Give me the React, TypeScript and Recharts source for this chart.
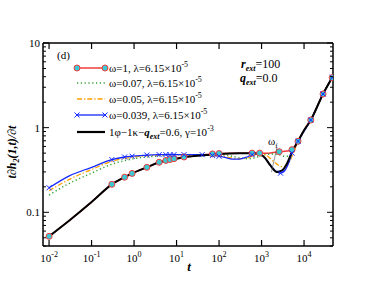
import React from "react";
import { LineChart, Line, XAxis, YAxis } from "recharts";

// ω=1, λ=6.15e-5
const tRed = [0.01, 0.03, 0.1, 0.3, 0.6, 0.9, 2, 3.9, 5.6, 7, 8.7, 15, 40, 70, 100, 300, 600, 900, 1500, 2600, 4000, 5200, 7200, 10000, 14400, 28000, 46000];
const vRed = [0.052, 0.08, 0.132, 0.214, 0.26, 0.288, 0.34, 0.39, 0.41, 0.42, 0.43, 0.45, 0.475, 0.49, 0.495, 0.5, 0.5, 0.5, 0.5, 0.52, 0.53, 0.55, 0.69, 0.93, 1.23, 2.5, 3.9];
const redMarkT = [0.01, 0.3, 0.6, 0.9, 2, 3.9, 5.6, 7, 8.7, 15, 70, 100, 600, 900, 2600, 5200, 7200, 14400, 28000, 46000];

// ω=0.07
const tGreen = [0.01, 0.03, 0.1, 0.3, 1, 3, 10, 50, 100, 200, 300, 500, 800, 1200, 1800, 2600, 3500, 4500, 5500, 7200, 14400, 28000, 46000];
const vGreen = [0.16, 0.22, 0.29, 0.37, 0.43, 0.46, 0.48, 0.48, 0.48, 0.46, 0.44, 0.43, 0.45, 0.48, 0.49, 0.48, 0.46, 0.46, 0.53, 0.69, 1.23, 2.5, 3.9];

// ω=0.05
const tOrange = [0.01, 0.03, 0.1, 0.3, 1, 3, 10, 50, 100, 150, 250, 400, 600, 900, 1300, 1800, 2500, 3200, 4200, 5200, 6200, 7200, 14400, 28000, 46000];
const vOrange = [0.18, 0.245, 0.32, 0.4, 0.45, 0.47, 0.48, 0.48, 0.47, 0.45, 0.43, 0.43, 0.46, 0.49, 0.47, 0.41, 0.36, 0.345, 0.37, 0.46, 0.57, 0.69, 1.23, 2.5, 3.9];

// ω=0.039
const tBlue = [0.01, 0.03, 0.1, 0.3, 0.6, 0.9, 2, 3.9, 5.6, 7, 8.7, 15, 40, 70, 100, 150, 200, 300, 450, 600, 900, 1200, 1600, 2300, 2800, 3500, 4500, 5200, 7200, 14400, 28000, 46000];
const vBlue = [0.195, 0.27, 0.34, 0.42, 0.45, 0.46, 0.475, 0.48, 0.48, 0.48, 0.48, 0.48, 0.48, 0.47, 0.46, 0.44, 0.425, 0.425, 0.45, 0.48, 0.49, 0.44, 0.36, 0.3, 0.29, 0.31, 0.4, 0.5, 0.69, 1.23, 2.5, 3.9];
const blueMarkT = [0.01, 0.3, 0.6, 0.9, 2, 3.9, 5.6, 7, 8.7, 15, 40, 70, 100, 600, 2800, 5200, 7200, 14400, 28000, 46000];

// 1φ-1κ-q_ext=0.6, γ=1e-3
const tBlack = [0.01, 0.03, 0.1, 0.3, 0.6, 0.9, 2, 3.9, 10, 20, 50, 100, 300, 700, 900, 1200, 1600, 2300, 3000, 4000, 5200, 7200, 10000, 14400, 28000, 46000];
const vBlack = [0.052, 0.08, 0.132, 0.214, 0.26, 0.288, 0.34, 0.39, 0.43, 0.455, 0.475, 0.49, 0.5, 0.5, 0.49, 0.44, 0.36, 0.3, 0.31, 0.38, 0.52, 0.69, 0.93, 1.23, 2.5, 3.9];

const xMajor = [0.01, 0.1, 1, 10, 100, 1000, 10000];
const yTicks = [0.04, 0.05, 0.06, 0.07, 0.08, 0.09, 0.1, 0.2, 0.3, 0.4, 0.5, 0.6, 0.7, 0.8, 0.9, 1, 2, 3, 4, 5, 6, 7, 8, 9, 10];
const yMajor = [0.1, 1, 10];

const zip = (t: number[], v: number[]) => t.map((x, i) => ({ t: x, v: v[i] }));
const redData = zip(tRed, vRed);
const greenData = zip(tGreen, vGreen);
const orangeData = zip(tOrange, vOrange);
const blueData = zip(tBlue, vBlue);
const blackData = zip(tBlack, vBlack);

const FONT = "Liberation Serif, Times New Roman, serif";
const RED = "#f03c3c";
const CYAN = "#3cc8d2";
const GREEN = "#30a030";
const ORANGE = "#ffa000";
const BLUE = "#1428ff";

const isMajor = (v: number, list: number[]) => list.some((m) => Math.abs(m - v) / m < 1e-6);

const XTickBottom = (props: any) => {
  const { x, y, payload } = props;
  const e = Math.round(Math.log10(payload.value));
  return (
    <g>
      <line x1={x} x2={x} y1={y} y2={y - 6} stroke="#000" strokeWidth={1.2} />
      <text x={x} y={y + 16} textAnchor="middle" fontSize={11} fontFamily={FONT} fill="#000">
        10<tspan dy={-5} fontSize={8}>{e}</tspan>
      </text>
    </g>
  );
};

const XTickTop = (props: any) => {
  const { x, y } = props;
  return <line x1={x} x2={x} y1={y} y2={y + 6} stroke="#000" strokeWidth={1.2} />;
};

const YTickLeft = (props: any) => {
  const { x, y, payload } = props;
  const major = isMajor(payload.value, yMajor);
  return (
    <g>
      <line x1={x} x2={x + (major ? 6 : 3)} y1={y} y2={y} stroke="#000" strokeWidth={1} />
      {major && (
        <text x={x - 3} y={y + 4} textAnchor="end" fontSize={11} fontFamily={FONT} fill="#000">
          {payload.value}
        </text>
      )}
    </g>
  );
};

const YTickRight = (props: any) => {
  const { x, y, payload } = props;
  const major = isMajor(payload.value, yMajor);
  return <line x1={x} x2={x - (major ? 6 : 3)} y1={y} y2={y} stroke="#000" strokeWidth={1} />;
};

const RedDot = (props: any) => {
  const { cx, cy, index, payload } = props;
  if (!redMarkT.includes(payload.t)) return <g key={index} />;
  return <circle key={index} cx={cx} cy={cy} r={3} fill={CYAN} stroke={RED} strokeWidth={1} />;
};

const Cross = ({ cx, cy }: { cx: number; cy: number }) => (
  <g>
    <line x1={cx - 2.5} y1={cy - 2.5} x2={cx + 2.5} y2={cy + 2.5} stroke={BLUE} strokeWidth={1} />
    <line x1={cx - 2.5} y1={cy + 2.5} x2={cx + 2.5} y2={cy - 2.5} stroke={BLUE} strokeWidth={1} />
  </g>
);

const BlueDot = (props: any) => {
  const { cx, cy, index, payload } = props;
  if (!blueMarkT.includes(payload.t)) return <g key={index} />;
  return (
    <g key={index}>
      <Cross cx={cx} cy={cy} />
    </g>
  );
};

const Sup = ({ children }: { children: React.ReactNode }) => (
  <tspan dy={-5} fontSize={8}>{children}</tspan>
);

function Overlay() {
  const lx1 = 77;
  const lx2 = 105;
  const tx = 109;
  const rows = [68, 83, 99, 115, 132];
  const fs = 11;
  return (
    <svg width={374} height={289} style={{ position: "absolute", left: 0, top: 0, pointerEvents: "none" }}>
      <g fontFamily={FONT} fill="#000">
        <text x={57} y={59} fontSize={11}>(d)</text>

        <line x1={lx1} x2={lx2} y1={rows[0]} y2={rows[0]} stroke={RED} strokeWidth={1.5} />
        <circle cx={lx1} cy={rows[0]} r={3} fill={CYAN} stroke={RED} />
        <circle cx={lx2} cy={rows[0]} r={3} fill={CYAN} stroke={RED} />
        <text x={tx} y={rows[0] + 4} fontSize={fs}>ω=1, λ=6.15×10<Sup>-5</Sup></text>

        <line x1={lx1} x2={lx2} y1={rows[1]} y2={rows[1]} stroke={GREEN} strokeWidth={1.5} strokeDasharray="1.2 2.6" />
        <text x={tx} y={rows[1] + 4} fontSize={fs}>ω=0.07, λ=6.15×10<Sup>-5</Sup></text>

        <line x1={lx1} x2={lx2} y1={rows[2]} y2={rows[2]} stroke={ORANGE} strokeWidth={1.3} strokeDasharray="5 2 1.3 2" />
        <text x={tx} y={rows[2] + 4} fontSize={fs}>ω=0.05, λ=6.15×10<Sup>-5</Sup></text>

        <line x1={lx1} x2={lx2} y1={rows[3]} y2={rows[3]} stroke={BLUE} strokeWidth={1.3} />
        <Cross cx={lx1} cy={rows[3]} />
        <Cross cx={lx2} cy={rows[3]} />
        <text x={tx} y={rows[3] + 4} fontSize={fs}>ω=0.039, λ=6.15×10<Sup>-5</Sup></text>

        <line x1={lx1} x2={lx2} y1={rows[4]} y2={rows[4]} stroke="#000" strokeWidth={2.2} />
        <text x={tx} y={rows[4] + 4} fontSize={fs}>
          1φ−1κ−<tspan fontWeight="bold" fontStyle="italic">q</tspan>
          <tspan dy={3} fontSize={8} fontStyle="italic" fontWeight="bold">ext</tspan>
          <tspan dy={-3}>=0.6, γ=10</tspan>
          <Sup>-3</Sup>
        </text>

        <text x={241} y={68} fontSize={12}>
          <tspan fontWeight="bold" fontStyle="italic">r</tspan>
          <tspan dy={3} fontSize={8} fontStyle="italic" fontWeight="bold">ext</tspan>
          <tspan dy={-3}>=100</tspan>
        </text>
        <text x={240} y={82} fontSize={12}>
          <tspan fontWeight="bold" fontStyle="italic">q</tspan>
          <tspan dy={3} fontSize={8} fontStyle="italic" fontWeight="bold">ext</tspan>
          <tspan dy={-3}>=0.0</tspan>
        </text>

        <text x={268} y={145} fontSize={11}>
          ω<tspan dy={3} fontSize={7}>f</tspan>
        </text>
        <line x1={277} y1={147} x2={271.5} y2={172} stroke="#555" strokeWidth={0.6} />

        <text x={189} y={271} fontSize={13} fontWeight="bold" fontStyle="italic" textAnchor="middle">t</text>

        <text
          transform="translate(16,152) rotate(-90)"
          fontSize={12}
          fontWeight="bold"
          fontStyle="italic"
          textAnchor="middle"
        >
          t∂h<tspan dy={3} fontSize={8}>2</tspan>
          <tspan dy={-3}>(1,t)/∂t</tspan>
        </text>
      </g>
    </svg>
  );
}

const axisLine = { stroke: "#000", strokeWidth: 1.5 };

export default function App() {
  return (
    <div style={{ position: "absolute", left: 0, top: 0, width: 374, height: 289, background: "#fff" }}>
      <LineChart width={374} height={289} margin={{ top: 42, right: 40, bottom: 42, left: 42 }}>
        <XAxis
          xAxisId="b"
          dataKey="t"
          type="number"
          scale="log"
          domain={[0.0072, 48000]}
          allowDataOverflow
          ticks={xMajor}
          height={1}
          tickSize={0}
          tickMargin={0}
          tickLine={false}
          tick={<XTickBottom />}
          interval={0}
          axisLine={axisLine}
        />
        <XAxis
          xAxisId="t"
          orientation="top"
          dataKey="t"
          type="number"
          scale="log"
          domain={[0.0072, 48000]}
          allowDataOverflow
          ticks={xMajor}
          height={1}
          tickSize={0}
          tickMargin={0}
          tickLine={false}
          tick={<XTickTop />}
          interval={0}
          axisLine={axisLine}
        />
        <YAxis
          yAxisId="l"
          type="number"
          scale="log"
          domain={[0.04, 10]}
          allowDataOverflow
          ticks={yTicks}
          width={1}
          tickSize={0}
          tickMargin={0}
          tickLine={false}
          tick={<YTickLeft />}
          interval={0}
          axisLine={axisLine}
        />
        <YAxis
          yAxisId="r"
          orientation="right"
          type="number"
          scale="log"
          domain={[0.04, 10]}
          allowDataOverflow
          ticks={yTicks}
          width={1}
          tickSize={0}
          tickMargin={0}
          tickLine={false}
          tick={<YTickRight />}
          interval={0}
          axisLine={axisLine}
        />
        <Line xAxisId="b" yAxisId="l" data={redData} dataKey="v" type="monotone" stroke={RED} strokeWidth={1.5} dot={<RedDot />} isAnimationActive={false} />
        <Line xAxisId="b" yAxisId="l" data={greenData} dataKey="v" type="monotone" stroke={GREEN} strokeWidth={1.5} strokeDasharray="1.2 2.6" dot={false} isAnimationActive={false} />
        <Line xAxisId="b" yAxisId="l" data={orangeData} dataKey="v" type="monotone" stroke={ORANGE} strokeWidth={1.3} strokeDasharray="5 2 1.3 2" dot={false} isAnimationActive={false} />
        <Line xAxisId="b" yAxisId="l" data={blueData} dataKey="v" type="monotone" stroke={BLUE} strokeWidth={1.3} dot={<BlueDot />} isAnimationActive={false} />
        <Line xAxisId="b" yAxisId="l" data={blackData} dataKey="v" type="monotone" stroke="#000" strokeWidth={2} dot={false} isAnimationActive={false} />
      </LineChart>
      <Overlay />
    </div>
  );
}
